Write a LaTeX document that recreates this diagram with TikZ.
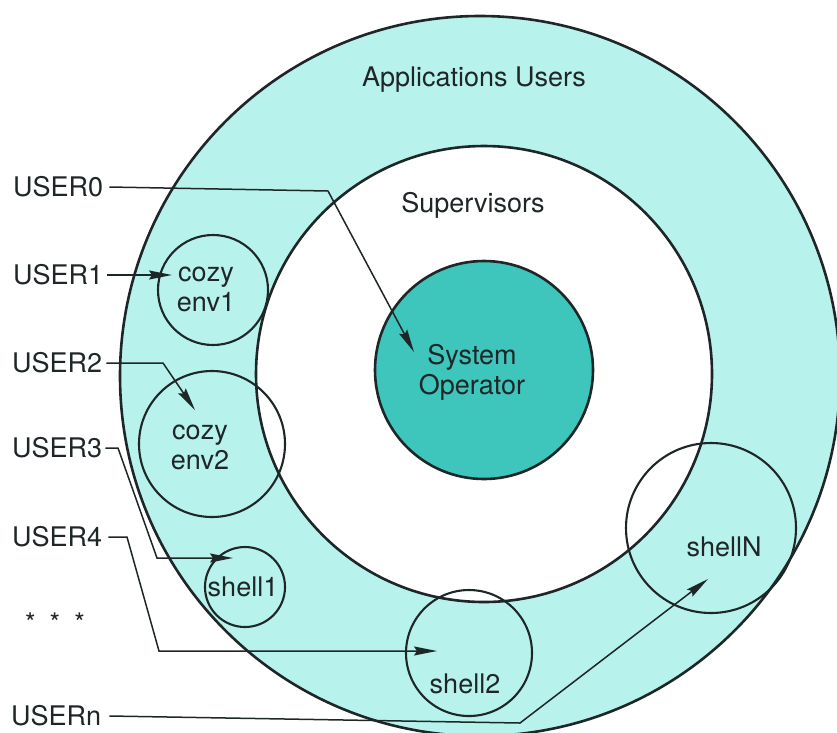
\documentclass[tikz,border=0pt]{standalone}
\usepackage{fontspec}
\setmainfont{TeX Gyre Heros}
\usetikzlibrary{arrows.meta}
\definecolor{ringfill}{RGB}{184,242,236}
\definecolor{corefill}{RGB}{62,198,188}
\definecolor{inkline}{RGB}{30,38,40}

\begin{document}
\begin{tikzpicture}[x=1pt,y=-1pt,
  every node/.style={font=\fontsize{27}{30}\selectfont, text=inkline},
  lbl/.style={inner sep=0pt, align=center},
  userlbl/.style={inner sep=0pt, anchor=west},
  zone/.style={circle, draw=inkline, line width=2.6pt, inner sep=0pt},
  env/.style={circle, draw=inkline, line width=2.1pt, inner sep=0pt},
  link/.style={draw=inkline, line width=1.5pt,
    -{Stealth[length=23pt,width=9pt,inset=3pt]}},
]
\useasboundingbox (0,0) rectangle (837,732);
\clip (0,0) rectangle (837,732);

% concentric protection rings
\node[zone, fill=ringfill, minimum size=720pt] (apps) at (480,376) {};
\node[zone, fill=white, minimum size=456pt] (sup) at (484,374) {};
\node[zone, fill=corefill, minimum size=218pt] (sysop) at (484,370) {};

% user environments
\node[env, minimum size=110pt] (env1) at (213,290) {};
\node[env, minimum size=146pt] (env2) at (212,444) {};
\node[env, minimum size=80pt] (shell1) at (245,587) {};
\node[env, minimum size=126pt] (shell2) at (469,653) {};
\node[env, minimum size=170pt] (shellN) at (711,528) {};

% ring and environment labels
\node[lbl] (tapps) at (474,80) {Applications Users};
\node[lbl] (tsup) at (473,205) {Supervisors};
\node[lbl] (tsys) at (472,372) {System\\Operator};
\node[lbl] (tenv1) at (206,289) {cozy\\env1};
\node[lbl] (tenv2) at (200,447) {cozy\\env2};
\node[lbl] (tsh1) at (243,587) {shell1};
\node[lbl] (tsh2) at (465,684) {shell2};
\node[lbl] (tshN) at (724,547) {shellN};

% users
\node[userlbl] (u0) at (13,187) {USER0};
\node[userlbl] (u1) at (13,275) {USER1};
\node[userlbl] (u2) at (12,363) {USER2};
\node[userlbl] (u3) at (12,448) {USER3};
\node[userlbl] (u4) at (12,537) {USER4};
\node[userlbl] (un) at (11,716) {USERn};
\node[lbl] (dots) at (55,623) {*\hspace{14pt}*\hspace{14pt}*};

% connection paths
\coordinate (k0) at (328,191);
\coordinate (tip0) at (414,352);
\coordinate (tip1) at (172,275);
\coordinate (k2) at (163,363);
\coordinate (tip2) at (195,410);
\coordinate (k3a) at (118,448);
\coordinate (k3b) at (157,558);
\coordinate (tip3) at (233,558);
\coordinate (k4a) at (127,537);
\coordinate (k4b) at (159,651);
\coordinate (tip4) at (437,651);
\coordinate (kn) at (520,723);
\coordinate (tipn) at (708,579);

\draw[link] ([xshift=6pt]u0.east) -- (k0) -- (tip0);
\draw[link] ([xshift=4pt]u1.east) -- (tip1);
\draw[link] ([xshift=4pt]u2.east) -- (k2) -- (tip2);
\draw[link] ([xshift=3pt]u3.east) -- (k3a) -- (k3b) -- (tip3);
\draw[link] ([xshift=6pt]u4.east) -- (k4a) -- (k4b) -- (tip4);
\draw[link] ([xshift=8pt]un.east) -- (kn) -- (tipn);
\end{tikzpicture}
\end{document}
